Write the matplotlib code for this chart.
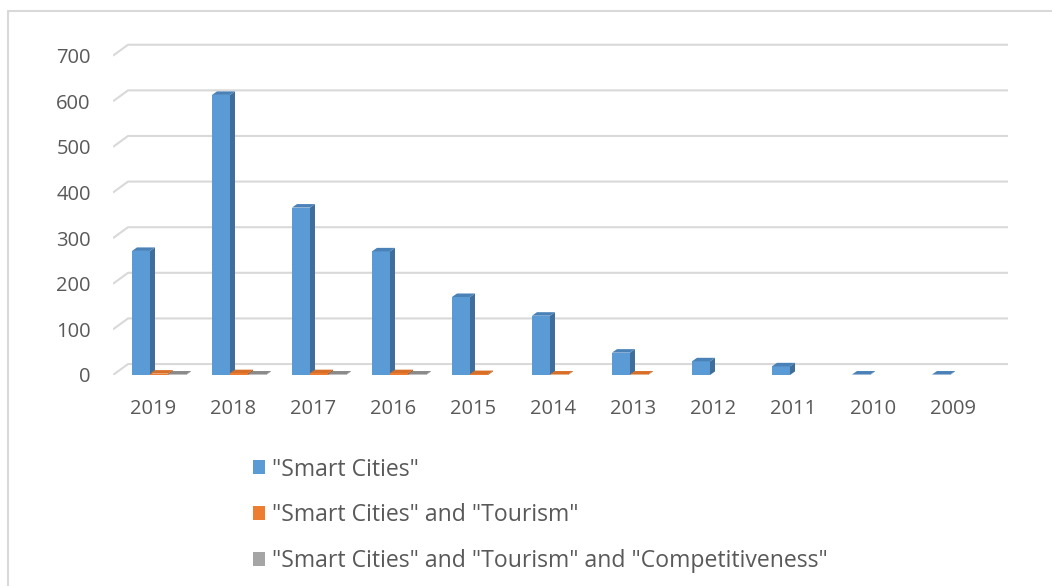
import numpy as np
import matplotlib.pyplot as plt
from matplotlib.patches import Polygon, Patch, Rectangle

plt.rcParams['font.family'] = ['Open Sans', 'DejaVu Sans']

#=========================================================================
# data
years = ['2019', '2018', '2017', '2016', '2015', '2014', '2013', '2012', '2011', '2010', '2009']
smart_cities = [272, 614, 367, 271, 171, 130, 49, 30, 19, 1, 1]
smart_tourism = [3, 4, 4, 4, 2, 1, 1, 0, 0, 0, 0]
smart_tourism_comp = [1, 1, 1, 1, 0, 0, 0, 0, 0, 0, 0]

series_names = ['"Smart Cities"',
                '"Smart Cities" and "Tourism"',
                '"Smart Cities" and "Tourism" and "Competitiveness"']

# front, side, top colours for each series
colors = [('#5B9BD5', '#3F6E9A', '#4A82B8'),
          ('#ED7D31', '#A9581F', '#D86F29'),
          ('#A5A5A5', '#747474', '#8A8A8A')]

#=========================================================================
fig = plt.figure(figsize=(10.52, 5.86), dpi=100)
ax = fig.add_axes([113 / 1052, 1 - 375 / 586, 895 / 1052, 333 / 586])

idx = np.arange(len(years))
width = 0.225
offsets = [-0.15, 0.075, 0.30]
ddx, ddy = 0.0625, 7.7       # depth of each bar (side / top faces)
gdx, gdy = 0.1875, 24        # depth of the back wall

ax.set_xlim(-0.5, 10.6875)
ax.set_ylim(0, 730)

# gridlines on the back wall with a short slanted piece on the left
for v in range(0, 701, 100):
    ax.plot([-0.5, -0.5 + gdx, 10.6875], [v, v + gdy, v + gdy],
            color='#D9D9D9', lw=1.5, zorder=1, solid_capstyle='butt')

data = [smart_cities, smart_tourism, smart_tourism_comp]
for s, vals in enumerate(data):
    face, side, top = colors[s]
    xs = idx + offsets[s]
    vals = np.array(vals, dtype=float)
    z = 3 + s
    ax.bar(xs, vals, width, color=face, edgecolor='none', zorder=z)
    for x, v in zip(xs, vals):
        if v <= 0:
            continue
        x0, x1 = x - width / 2, x + width / 2
        ax.add_patch(Polygon([(x1, 0), (x1 + ddx, ddy), (x1 + ddx, v + ddy), (x1, v)],
                             closed=True, facecolor=side, edgecolor='none', zorder=z))
        ax.add_patch(Polygon([(x0, v), (x1, v), (x1 + ddx, v + ddy), (x0 + ddx, v + ddy)],
                             closed=True, facecolor=top, edgecolor='none', zorder=z))

ax.set_xticks(idx)
ax.set_xticklabels(years)
ax.set_yticks(range(0, 701, 100))
ax.tick_params(axis='both', length=0, labelsize=14.5, labelcolor='#595959')
ax.tick_params(axis='y', pad=16)
ax.tick_params(axis='x', pad=17)
for sp in ax.spines.values():
    sp.set_visible(False)

handles = [Patch(facecolor=c[0], edgecolor='none') for c in colors]
fig.legend(handles, series_names, loc='upper left',
           bbox_to_anchor=(241 / 1052, 1 - 446 / 586), frameon=False,
           fontsize=16.6, labelcolor='#595959', handlelength=0.56, handleheight=0.56,
           handletextpad=0.3, labelspacing=0.95, borderpad=0)

# light grey chart border
fig.patches.append(Rectangle((8 / 1052, -0.1), 1.2, 1.1 - 11 / 586, transform=fig.transFigure,
                             fill=False, edgecolor='#D9D9D9', lw=1.5))

fig.savefig('out.png', dpi=100, facecolor='white')
